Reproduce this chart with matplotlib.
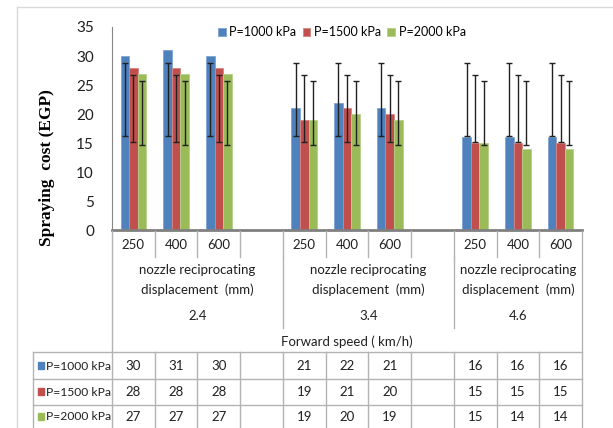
import matplotlib.pyplot as plt
import numpy as np
from matplotlib.lines import Line2D
from matplotlib.patches import Rectangle
from matplotlib.transforms import Affine2D, blended_transform_factory

# dados
displacements = ['250', '400', '600']
speeds = ['2.4', '3.4', '4.6']
series_names = ['P=1000 kPa', 'P=1500 kPa', 'P=2000 kPa']
p1000 = [30, 31, 30, 21, 22, 21, 16, 16, 16]
p1500 = [28, 28, 28, 19, 21, 20, 15, 15, 15]
p2000 = [27, 27, 27, 19, 20, 19, 15, 14, 14]
colors = ['#4F81BD', '#C0504D', '#9BBB59']
edges = ['#7EA3D3', '#D88381', '#B7D18A']

plt.rcParams['font.family'] = ['Lato', 'DejaVu Sans']

W, H = 613, 428
fig = plt.figure(figsize=(W / 100, H / 100), dpi=100)
L, R, T, B = 112, 582, 27, 230.5
ax = fig.add_axes([L / W, 1 - B / H, (R - L) / W, (B - T) / H])

# pixel coords (origin top-left) -> figure
pix = Affine2D().scale(1 / W, -1 / H).translate(0, 1) + fig.transFigure
xpix = blended_transform_factory(ax.transData, pix)

# slot de cada categoria: 3 grupos de 3 com um espaço vazio entre grupos
slots = np.array([g * 4 + i + 0.5 for g in range(3) for i in range(3)])
series = [p1000, p1500, p2000]
bw = 0.2
for k, vals in enumerate(series):
    xs = slots + (k - 1) * bw
    ax.bar(xs, vals, bw, color=colors[k], edgecolor=edges[k], linewidth=0.6,
           label=series_names[k], zorder=2)
    # barras de erro estilo Excel: média ± desvio padrão da série
    m = np.mean(vals)
    sd = np.std(vals, ddof=1)
    ax.errorbar(xs, [m] * len(vals), yerr=sd, fmt='none', ecolor='#202020',
                elinewidth=1, capsize=2.5, capthick=1, zorder=3)

ax.set_xlim(0, 11)
ax.set_ylim(0, 35)
ax.set_yticks(range(0, 36, 5))
ax.set_xticks([])
ax.tick_params(axis='y', length=0, pad=13, labelsize=11, labelcolor='#202020')
for s in ['top', 'right']:
    ax.spines[s].set_visible(False)
ax.spines['left'].set_color('#868686')
ax.spines['bottom'].set_color('#808080')
ax.spines['bottom'].set_linewidth(2)

ax.legend(loc='center', bbox_to_anchor=(342 / W, 1 - 32 / H),
          bbox_transform=fig.transFigure, ncol=3, frameon=False, fontsize=9,
          handlelength=0.6, handleheight=0.6, handletextpad=0.3,
          columnspacing=0.5)

fig.text(47 / W, 1 - 168 / H, 'Spraying  cost (EGP)', rotation=90,
         family='Liberation Serif', fontweight='bold', fontsize=12.5,
         ha='center', va='center')

# moldura externa
gc = '#D9D9D9'
fig.add_artist(Line2D([17, 17], [7, 428], color=gc, lw=1, transform=pix))
fig.add_artist(Line2D([17, 613], [7, 7], color=gc, lw=1, transform=pix))

# tabela de categorias
lc = '#B3B3B3'
def vline(xd, y0, y1):
    fig.add_artist(Line2D([xd, xd], [y0, y1], color=lc, lw=1, transform=xpix))

def hline(x0, x1, y):
    fig.add_artist(Line2D([x0, x1], [y, y], color=lc, lw=1, transform=pix))

tsize = 9.5
for j, s in enumerate(slots):
    ax.text(s, 245, displacements[j % 3], transform=xpix, ha='center',
            va='center', fontsize=tsize, color='#202020')
for b in range(1, 11):
    vline(b, 231, 257)
for g in range(3):
    x0, x1 = g * 4, min(g * 4 + 4, 11)
    xc = (x0 + x1) / 2
    ax.text(xc, 280, 'nozzle reciprocating\ndisplacement  (mm)',
            transform=xpix, ha='center', va='center', fontsize=tsize,
            color='#202020', linespacing=1.7)
    ax.text(xc, 316, speeds[g], transform=xpix, ha='center', va='center',
            fontsize=tsize, color='#202020')
for b in [4, 8]:
    vline(b, 257, 328)
vline(0, 231, 428)
vline(11, 231, 428)
ax.text(5.5, 342, 'Forward speed ( km/h)', transform=xpix, ha='center',
        va='center', fontsize=tsize, color='#202020')

# tabela de dados
rows_y = [366, 392, 417]
for yy in [352, 379, 405]:
    hline(33, R, yy)
fig.add_artist(Line2D([33, 33], [352, 428], color=lc, lw=1, transform=pix))
for b in range(1, 11):
    vline(b, 352, 428)
for k, vals in enumerate(series):
    y = rows_y[k]
    fig.add_artist(Rectangle((38, y - 3.5), 6, 7, color=colors[k],
                             transform=pix))
    fig.text(46 / W, 1 - y / H, series_names[k], ha='left', va='center',
             fontsize=8.7, color='#202020')
    for j, s in enumerate(slots):
        ax.text(s, y, str(vals[j]), transform=xpix, ha='center', va='center',
                fontsize=tsize, color='#202020')

fig.savefig('out.png', dpi=100)
